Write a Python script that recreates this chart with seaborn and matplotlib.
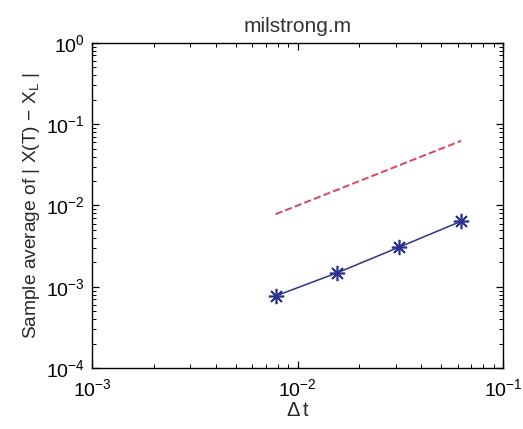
import numpy as np
import seaborn as sns
import matplotlib.pyplot as plt
from matplotlib.ticker import LogLocator, NullFormatter

dt_vals = [2**-7, 2**-6, 2**-5, 2**-4]
err_vals = [7.7e-4, 1.49e-3, 3.08e-3, 6.4e-3]
ref_vals = [2**-7, 2**-6, 2**-5, 2**-4]   # reference slope-1 line

sns.set_style("white")
plt.rcParams['font.family'] = ['Liberation Sans', 'DejaVu Sans']
plt.rcParams['mathtext.fontset'] = 'custom'
plt.rcParams['mathtext.rm'] = 'Liberation Sans'

fig = plt.figure(figsize=(5.23, 4.29), dpi=100)
ax = fig.add_axes([0.176, 0.142, 0.786, 0.758])

sns.lineplot(x=dt_vals, y=err_vals, ax=ax, color='#2b3190', marker=(8, 2, 0),
             markersize=11, markeredgecolor='#2b3190', markeredgewidth=1.2,
             linewidth=1.1)
sns.lineplot(x=dt_vals, y=ref_vals, ax=ax, color='#d9485a', linestyle='--',
             linewidth=1.4, dashes=(6, 4))

ax.set_xscale('log')
ax.set_yscale('log')
ax.set_xlim(1e-3, 1e-1)
ax.set_ylim(1e-4, 1e0)

for axis in (ax.xaxis, ax.yaxis):
    axis.set_minor_locator(LogLocator(base=10, subs=np.arange(2, 10), numticks=20))
    axis.set_minor_formatter(NullFormatter())

for s in ax.spines.values():
    s.set_color('black')
    s.set_linewidth(1.0)

ax.tick_params(which='both', direction='in', bottom=True, left=True,
               top=True, right=True, labelsize=14, colors='black')
ax.tick_params(which='major', length=5, width=0.9, pad=5)
ax.tick_params(which='minor', length=3, width=0.7)
ax.tick_params(axis='x', which='major', pad=7)

ax.set_title('milstrong.m', fontsize=15, pad=8, color='#333333')
ax.set_xlabel(r'$\Delta\,$t', fontsize=14.5, labelpad=1)
ax.set_ylabel(r'Sample average of | X(T) $-$ X$_\mathrm{L}$ |', fontsize=13.8, labelpad=3)

fig.savefig('out.png', dpi=100)
